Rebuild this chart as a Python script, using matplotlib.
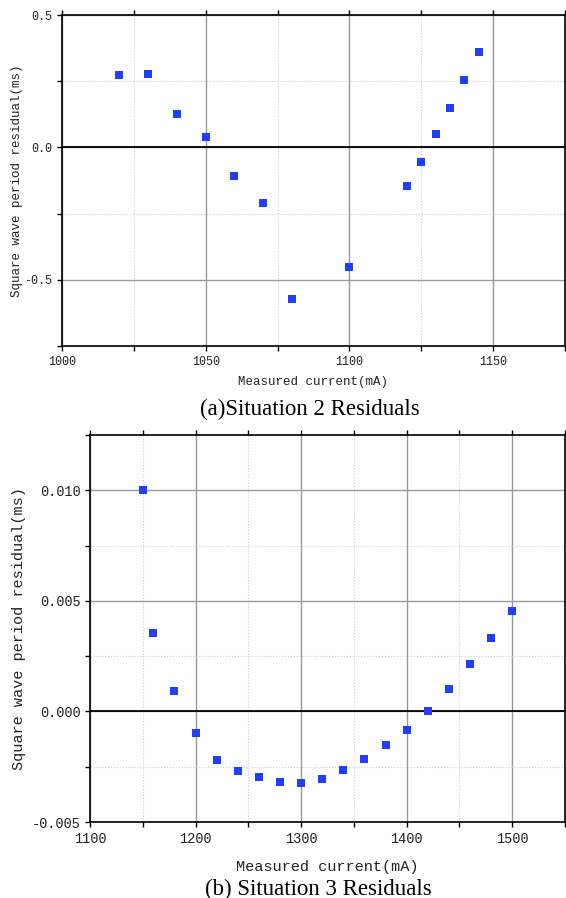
import numpy as np
import matplotlib
matplotlib.use("Agg")
import matplotlib.pyplot as plt
from matplotlib.ticker import MultipleLocator, FormatStrFormatter

# 情况2 残差数据
cur_a = [1020, 1030, 1040, 1050, 1060, 1070, 1080, 1100, 1120, 1125, 1130, 1135, 1140, 1145]
res_a = [0.275, 0.276, 0.125, 0.040, -0.108, -0.209, -0.573, -0.451, -0.147, -0.054, 0.049, 0.148, 0.255, 0.362]

# 情况3 残差数据
cur_b = [1150, 1160, 1180, 1200, 1220, 1240, 1260, 1280, 1300, 1320, 1340, 1360, 1380, 1400, 1420, 1440, 1460, 1480, 1500]
res_b = [0.0100, 0.00356, 0.00094, -0.00096, -0.00220, -0.00270, -0.00296, -0.00321, -0.00323, -0.00305,
         -0.00266, -0.00214, -0.00151, -0.00084, 0.0, 0.00101, 0.00214, 0.00333, 0.00456]

mono = ['Liberation Mono', 'DejaVu Sans Mono']
serif = ['Liberation Serif', 'DejaVu Serif']
W, H = 566, 898

fig = plt.figure(figsize=(W / 100, H / 100), dpi=100)


def px_axes(l, t, r, b):
    return fig.add_axes([l / W, 1 - b / H, (r - l) / W, (b - t) / H])


def style(ax, xmaj, xmin, ymaj, ymin, fs):
    ax.xaxis.set_major_locator(MultipleLocator(xmaj))
    ax.xaxis.set_minor_locator(MultipleLocator(xmin))
    ax.yaxis.set_major_locator(MultipleLocator(ymaj))
    ax.yaxis.set_minor_locator(MultipleLocator(ymin))
    ax.grid(which='major', color='#999999', linewidth=1.0, linestyle='-')
    ax.grid(which='minor', color='#cccccc', linewidth=0.8, linestyle=':')
    ax.set_axisbelow(True)
    ax.axhline(0, color='black', linewidth=1.3, zorder=1.5)
    for s in ax.spines.values():
        s.set_linewidth(1.2)
    ax.tick_params(which='both', length=3.5, width=1.0, labelsize=fs)
    ax.tick_params(which='both', top=True, right=True, direction='in')
    ax.tick_params(which='both', bottom=True, left=True, direction='out')
    for lab in ax.get_xticklabels() + ax.get_yticklabels():
        lab.set_family(mono)
        lab.set_color('#222222')


# (a) 情况2
ax1 = px_axes(62, 15, 565, 346)
ax1.scatter(cur_a, res_a, marker='s', s=26, color='#1f3fff', zorder=3, linewidths=0)
ax1.set_xlim(1000, 1175)
ax1.set_ylim(-0.75, 0.5)
ax1.yaxis.set_major_formatter(FormatStrFormatter('%.1f'))
style(ax1, 50, 25, 0.5, 0.25, 8.5)
ax1.set_xlabel('Measured current(mA)', family=mono, fontsize=9, color='#222222')
ax1.xaxis.set_label_coords(0.5, -0.09)
ax1.set_ylabel('Square wave period residual(ms)', family=mono, fontsize=9, color='#222222')
ax1.yaxis.set_label_coords(-0.077, 0.5)
fig.text(310 / W, 1 - 409 / H, '(a)Situation 2 Residuals', family=serif, fontsize=16.5,
         ha='center', va='center')

# (b) 情况3
ax2 = px_axes(90, 435, 565, 822)
ax2.scatter(cur_b, res_b, marker='s', s=34, color='#1f3fff', zorder=3, linewidths=0)
ax2.set_xlim(1100, 1550)
ax2.set_ylim(-0.005, 0.0125)
ax2.yaxis.set_major_formatter(FormatStrFormatter('%.3f'))
style(ax2, 100, 50, 0.005, 0.0025, 9.8)
ax2.set_xlabel('Measured current(mA)', family=mono, fontsize=11, color='#222222')
ax2.xaxis.set_label_coords(0.5, -0.098)
ax2.set_ylabel('Square wave period residual(ms)', family=mono, fontsize=11, color='#222222')
ax2.yaxis.set_label_coords(-0.135, 0.5)
fig.text(318 / W, 1 - 889 / H, '(b) Situation 3 Residuals', family=serif, fontsize=16.5,
         ha='center', va='center')

fig.savefig('out.png', dpi=100)
